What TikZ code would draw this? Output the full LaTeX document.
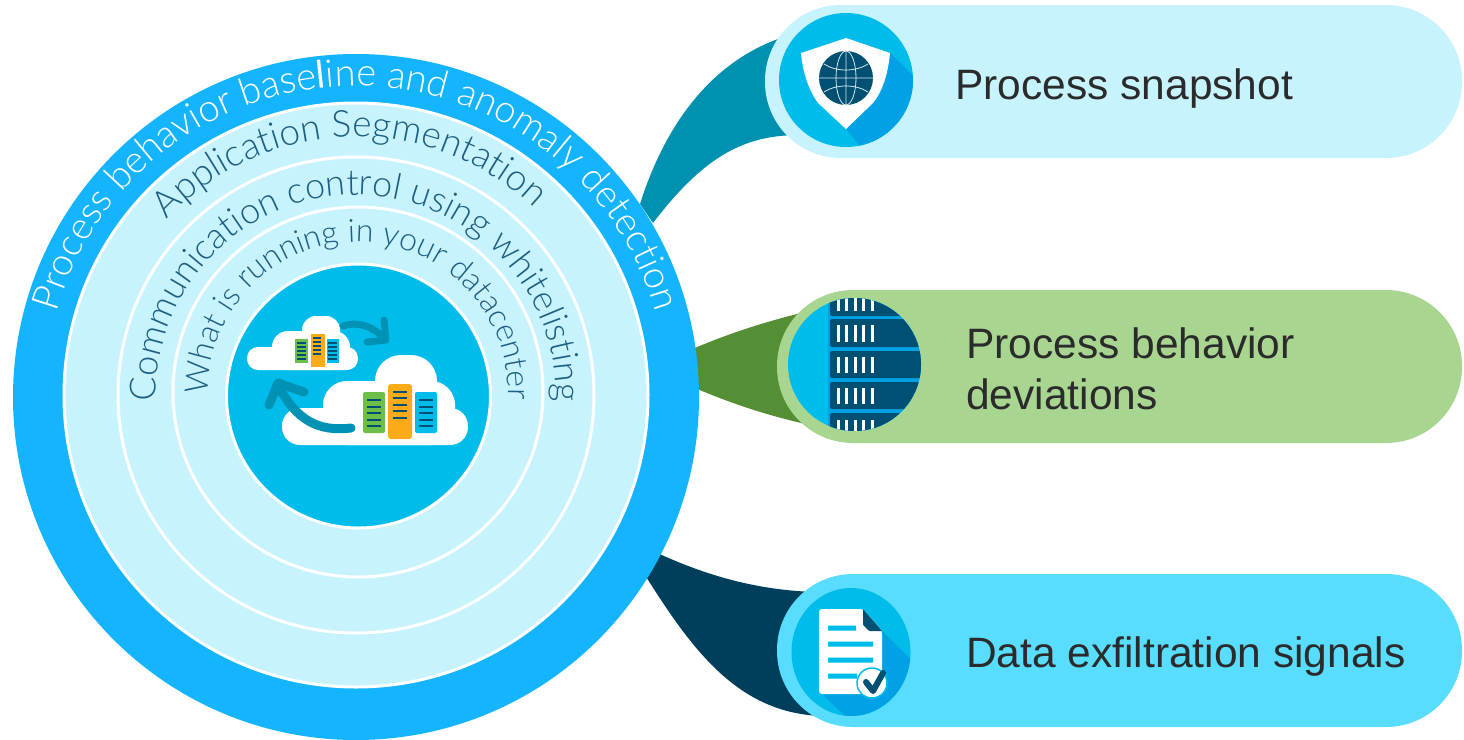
\documentclass[tikz,border=0pt]{standalone}
\usepackage{fontspec}
\setmainfont{Liberation Sans}
\newfontfamily\ringfam{Lato}[UprightFont=* Light]
\newfontfamily\ringboldfam{Lato}
\usetikzlibrary{decorations.text,shapes.geometric}
\definecolor{outerblue}{HTML}{14B4FF}
\definecolor{palecyan}{HTML}{C7F3FF}
\definecolor{coreblue}{HTML}{00BCEB}
\definecolor{shadeblue}{HTML}{00A2E5}
\definecolor{navy}{HTML}{005073}
\definecolor{ringink}{HTML}{1E5F80}
\definecolor{tealribbon}{HTML}{0090B0}
\definecolor{greenribbon}{HTML}{548F35}
\definecolor{darkribbon}{HTML}{003F5C}
\definecolor{palegreen}{HTML}{A8D690}
\definecolor{skyblue}{HTML}{59DDFF}
\definecolor{rackgreen}{HTML}{6EBE4A}
\definecolor{rackorange}{HTML}{FBAB18}
\definecolor{arrowteal}{HTML}{0092B5}
\definecolor{inkgrey}{HTML}{2B2B2B}
\newcommand{\ringfont}[1]{\ringfam\fontsize{#1}{40}\selectfont}
\newcommand{\labelfont}{\fontsize{42.5}{51}\selectfont}
\tikzset{
disc/.style={circle,inner sep=0pt,outer sep=0pt},
ring/.style={disc,fill=palecyan,draw=white,line width=3pt},
pill/.style={rounded corners=76pt,inner sep=0pt,outer sep=0pt,minimum height=153pt},
pilltext/.style={anchor=west,inner sep=0pt,align=left,text=inkgrey,font=\labelfont},
ringlabel/.style={decorate,decoration={text along path,text align=center,text={#1}}},
racktick/.style={line width=1.6pt,navy},
}
\begin{document}
\begin{tikzpicture}[x=1pt,y=-1pt,line join=round]
\useasboundingbox (0,0) rectangle (1464,739);
\fill[tealribbon] (640,204) .. controls (665,125) and (712,58) .. (790,35) -- (800,135) .. controls (745,135) and (705,155) .. (653,223) -- cycle;
\fill[greenribbon] (690,350) .. controls (725,335) and (760,323) .. (805,312) -- (810,425) .. controls (765,415) and (730,403) .. (690,386) -- cycle;
\fill[darkribbon] (655,552) .. controls (705,575) and (755,590) .. (815,592) -- (820,716) .. controls (740,712) and (695,655) .. (645,575) -- cycle;
\node[disc,fill=outerblue,minimum size=686pt] (outerdisc) at (356,397) {};
\node[ring,minimum size=584pt] (segdisc) at (356,395) {};
\node[ring,minimum size=476pt] (commdisc) at (356,395) {};
\node[ring,minimum size=370pt] (rundisc) at (358,392) {};
\node[disc,fill=coreblue,draw=white,line width=3pt,minimum size=264pt] (coredisc) at (358.5,396) {};
\path[ringlabel={|\ringfont{38}\color{white}|Process behavior base|\ringboldfam\fontsize{38}{40}\selectfont\color{white}|l|\ringfont{38}\color{white}|ine and anomaly detection}] (outerdisc.center) ++(190:311pt) arc[start angle=190,end angle=-10,radius=311pt];
\path[ringlabel={|\ringfont{37}\color{ringink}|Application Segmentation}] (segdisc.center) ++(181.7:258pt) arc[start angle=181.7,end angle=1.7,radius=258pt];
\path[ringlabel={|\ringfont{36}\color{ringink}|Communication control using whitelisting}] (commdisc.center) ++(190:200pt) arc[start angle=190,end angle=-10,radius=200pt];
\path[ringlabel={|\ringfont{32}\color{ringink}|What is running in your datacenter}] (rundisc.center) ++(189:150pt) arc[start angle=189,end angle=-11,radius=150pt];
% clouds
\fill[white,rounded corners=11pt] (247,347) rectangle (358,370);
\fill[white,rounded corners=16pt] (272,331) rectangle (350,370);
\fill[white,rounded corners=14pt] (302,316) rectangle (340,350);
\fill[white,rounded corners=18pt] (282,408) rectangle (468,445);
\fill[white,rounded corners=24pt] (323,381) rectangle (455,445);
\fill[white,rounded corners=26pt] (375,355) rectangle (437,410);
\fill[rackgreen,draw=white,line width=.5pt] (294,338) rectangle (308,363);
\fill[rackorange,draw=white,line width=.5pt] (310,333) rectangle (325,367);
\fill[coreblue,draw=white,line width=.5pt] (326,338) rectangle (339,363);
\foreach \y in {343,347,351,355,359} {\draw[racktick] (297,\y)--(306,\y) (328,\y)--(337,\y);}
\foreach \y in {338,342,346,350,354} \draw[racktick] (313,\y)--(321,\y);
\fill[rackgreen,rounded corners=2pt] (363,392) rectangle (385,433);
\fill[rackorange,rounded corners=3pt] (388,384) rectangle (412,439);
\fill[coreblue,rounded corners=2pt] (415,392) rectangle (437,433);
\foreach \y in {400,407,413,420,426} {\draw[racktick,line width=2.8pt] (367,\y)--(381,\y) (419,\y)--(433,\y);}
\foreach \y in {392,398,405,411,418} \draw[racktick,line width=2.8pt] (393,\y)--(407,\y);
\draw[arrowteal,line width=7pt,line cap=round] (343,326) .. controls (358,321) and (372,326) .. (384,338);
\draw[arrowteal,line width=7pt,line cap=round] (384,320)--(386,340)--(367,342);
\draw[arrowteal,line width=9pt,line cap=round] (351,428) .. controls (318,432) and (296,420) .. (278,385);
\draw[arrowteal,line width=9pt,line cap=round] (269,405)--(278,383)--(304,392);
% pills
\node[pill,fill=palecyan,minimum width=697pt,anchor=north west] (snapshotpill) at (765,5) {};
\node[pill,fill=palegreen,minimum width=685pt,anchor=north west] (deviationpill) at (777,290) {};
\node[pill,fill=skyblue,minimum width=685pt,anchor=north west] (signalpill) at (777,574) {};
\node[pilltext] (snapshottext) at (955,89) {Process snapshot};
\node[pilltext] (deviationtext) at (966,369) {Process behavior\\deviations};
\node[pilltext] (signaltext) at (966,657) {Data exfiltration signals};
% shield icon
\node[disc,fill=coreblue,minimum size=134pt] (shieldicon) at (846,80) {};
\begin{scope}
\clip (846,80) circle[radius=67pt];
\fill[shadeblue] (890,53) -- (930,93) -- (880,170) -- (846,129) -- cycle;
\end{scope}
\fill[white] (846,38) -- (890,53) .. controls (888,75) and (882,92) .. (873,103) -- (846,129) -- (818,103) .. controls (810,92) and (803,75) .. (801,53) -- cycle;
\fill[navy] (846,78) circle[radius=27pt];
\draw[white!85!navy,line width=.8pt] (846,51)--(846,105) (846,78) ellipse[x radius=10pt,y radius=27pt] (819,78)--(873,78)
 (824,64) .. controls (836,72) and (856,72) .. (868,64) (824,92) .. controls (836,84) and (856,84) .. (868,92);
% server icon
\node[disc,fill=coreblue,minimum size=133pt] (servericon) at (854.5,364.5) {};
\begin{scope}
\clip (854.5,364.5) circle[radius=66.5pt];
\fill[shadeblue] (828,290) rectangle (930,445);
\foreach \ya/\yb in {285/316,319/347,351/378,382/409,413/445} \fill[navy,rounded corners=2pt] (830,\ya) rectangle (930,\yb);
\foreach \x in {837,845,854,862,871} \foreach \ya/\yb in {298/311,325/342,357/373,388/404,420/432} \fill[white] (\x,\ya) rectangle (\x+3,\yb);
\end{scope}
% document icon
\node[ellipse,inner sep=0pt,outer sep=0pt,fill=coreblue,minimum width=119pt,minimum height=128pt] (docicon) at (851,652) {};
\begin{scope}
\clip (851,652) ellipse[x radius=59.5pt,y radius=64pt];
\fill[shadeblue] (882,631) -- (925,674) -- (860,730) -- (823,695) -- cycle;
\end{scope}
\fill[white,rounded corners=3pt] (819,609) -- (863,609) -- (882,631) -- (882,694) -- (819,694) -- cycle;
\fill[navy,rounded corners=1pt] (863,609) -- (882,631) -- (869,631) -- (863,625) -- cycle;
\fill[coreblue] (828,625.5) rectangle (856,630.5) (828,641.5) rectangle (873,646.5) (828,657.5) rectangle (873,662.5) (828,673.5) rectangle (857,678.5);
\filldraw[fill=white,draw=coreblue,line width=1.5pt] (872,683) circle[radius=15pt];
\draw[navy,line width=6pt,line cap=round] (866,682)--(873,691)--(883,673);
\end{tikzpicture}
\end{document}
